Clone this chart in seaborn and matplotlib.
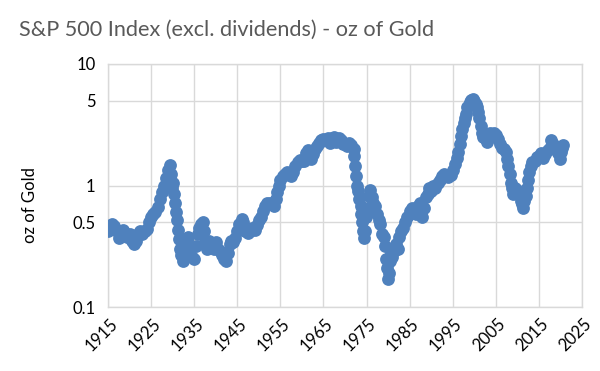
"""
S&P 500 Index (excl. dividends) priced in ounces of gold, 1915-2020
"""
import numpy as np
import pandas as pd
import matplotlib
matplotlib.use("Agg")
import matplotlib.pyplot as plt
import matplotlib.transforms as mtransforms
from matplotlib.ticker import FixedLocator, FixedFormatter, NullLocator
import seaborn as sns

# values (year, S&P 500 / gold price)
years = [
    1915.0, 1915.5, 1916.0, 1916.5, 1917.0, 1917.5, 1918.0, 1918.5, 1919.0, 1919.5,
    1920.0, 1920.5, 1921.0, 1921.5, 1922.0, 1922.5, 1923.0, 1923.5, 1924.0, 1924.5,
    1925.0, 1925.5, 1926.0, 1926.5, 1927.0, 1927.5, 1928.0, 1928.5, 1929.0, 1929.3,
    1929.6, 1929.8, 1930.0, 1930.3, 1930.6, 1930.8, 1931.0, 1931.2, 1931.5, 1931.8,
    1932.0, 1932.3, 1932.6, 1932.8, 1933.0, 1933.3, 1933.6, 1934.0, 1934.5, 1935.0,
    1935.4, 1935.8, 1936.2, 1936.6, 1937.0, 1937.3, 1937.6, 1938.0, 1938.5, 1939.0,
    1939.5, 1940.0, 1940.5, 1941.0, 1941.5, 1942.0, 1942.4, 1942.8, 1943.2, 1943.6,
    1944.0, 1944.5, 1945.0, 1945.5, 1946.0, 1946.4, 1946.8, 1947.2, 1947.6, 1948.0,
    1948.5, 1949.0, 1949.5, 1950.0, 1950.5, 1951.0, 1951.5, 1952.0, 1952.5, 1953.0,
    1953.5, 1954.0, 1954.3, 1954.7, 1955.0, 1955.5, 1956.0, 1956.5, 1957.0, 1957.5,
    1958.0, 1958.5, 1959.0, 1959.5, 1960.0, 1960.5, 1961.0, 1961.5, 1962.0, 1962.5,
    1963.0, 1963.5, 1964.0, 1964.5, 1965.0, 1965.5, 1966.0, 1966.5, 1967.0, 1967.5,
    1968.0, 1968.5, 1969.0, 1969.5, 1970.0, 1970.5, 1971.0, 1971.5, 1972.0, 1972.2,
    1972.4, 1972.6, 1972.8, 1973.0, 1973.3, 1973.6, 1973.8, 1974.0, 1974.2, 1974.4,
    1974.6, 1974.8, 1975.0, 1975.3, 1975.6, 1975.9, 1976.2, 1976.5, 1977.0, 1977.4,
    1977.8, 1978.2, 1978.6, 1979.0, 1979.3, 1979.6, 1979.8, 1980.0, 1980.2, 1980.4,
    1980.7, 1981.0, 1981.4, 1981.8, 1982.2, 1982.6, 1983.0, 1983.5, 1984.0, 1984.5,
    1985.0, 1985.5, 1986.0, 1986.5, 1987.0, 1987.5, 1987.9, 1988.3, 1988.8, 1989.2,
    1989.6, 1990.0, 1990.5, 1991.0, 1991.5, 1992.0, 1992.5, 1993.0, 1993.5, 1994.0,
    1994.5, 1995.0, 1995.5, 1996.0, 1996.3, 1996.6, 1996.9, 1997.2, 1997.5, 1997.8,
    1998.1, 1998.4, 1998.7, 1999.0, 1999.3, 1999.6, 2000.0, 2000.3, 2000.6, 2000.9,
    2001.2, 2001.5, 2001.8, 2002.1, 2002.4, 2002.7, 2003.0, 2003.3, 2003.6, 2004.0,
    2004.5, 2005.0, 2005.5, 2006.0, 2006.5, 2007.0, 2007.4, 2007.7, 2007.9, 2008.2,
    2008.5, 2008.8, 2009.1, 2009.5, 2010.0, 2010.5, 2010.8, 2011.0, 2011.3, 2011.6,
    2011.9, 2012.2, 2012.5, 2012.8, 2013.1, 2013.5, 2014.0, 2014.5, 2015.0, 2015.5,
    2016.0, 2016.5, 2017.0, 2017.5, 2017.9, 2018.2, 2018.6, 2019.0, 2019.4, 2019.8,
    2020.1, 2020.4, 2020.7,
]
oz_gold = [
    0.42, 0.46, 0.48, 0.46, 0.42, 0.37, 0.40, 0.43, 0.41, 0.38,
    0.40, 0.35, 0.33, 0.35, 0.40, 0.42, 0.40, 0.42, 0.44, 0.50,
    0.55, 0.58, 0.60, 0.66, 0.78, 0.88, 1.00, 1.15, 1.35, 1.47,
    1.25, 0.95, 1.05, 0.85, 0.72, 0.60, 0.52, 0.43, 0.36, 0.30,
    0.27, 0.24, 0.30, 0.35, 0.27, 0.33, 0.38, 0.30, 0.26, 0.25,
    0.32, 0.40, 0.45, 0.48, 0.50, 0.42, 0.34, 0.30, 0.35, 0.33,
    0.30, 0.34, 0.30, 0.29, 0.27, 0.25, 0.24, 0.28, 0.33, 0.35,
    0.34, 0.37, 0.42, 0.48, 0.53, 0.50, 0.42, 0.44, 0.41, 0.42,
    0.45, 0.43, 0.47, 0.52, 0.55, 0.62, 0.68, 0.72, 0.72, 0.70,
    0.68, 0.78, 0.88, 1.00, 1.12, 1.20, 1.25, 1.30, 1.25, 1.20,
    1.28, 1.45, 1.55, 1.62, 1.58, 1.60, 1.85, 1.95, 1.65, 1.80,
    2.00, 2.10, 2.25, 2.35, 2.40, 2.35, 2.45, 2.25, 2.45, 2.50,
    2.30, 2.45, 2.35, 2.20, 2.20, 2.10, 2.25, 2.15, 2.00, 1.75,
    1.45, 1.20, 1.00, 0.90, 0.78, 0.68, 0.58, 0.50, 0.42, 0.37,
    0.42, 0.55, 0.60, 0.65, 0.82, 0.92, 0.80, 0.72, 0.68, 0.58,
    0.52, 0.48, 0.40, 0.38, 0.32, 0.25, 0.21, 0.17, 0.19, 0.24,
    0.28, 0.26, 0.29, 0.33, 0.30, 0.38, 0.42, 0.45, 0.50, 0.55,
    0.62, 0.65, 0.62, 0.58, 0.68, 0.72, 0.55, 0.65, 0.80, 0.85,
    0.95, 0.90, 1.00, 0.95, 1.05, 1.12, 1.20, 1.25, 1.22, 1.18,
    1.22, 1.35, 1.50, 1.70, 1.90, 2.20, 2.55, 2.90, 3.30, 3.60,
    3.90, 4.40, 4.60, 4.90, 5.10, 5.20, 5.00, 4.70, 4.40, 4.00,
    3.60, 3.10, 2.70, 2.50, 2.60, 2.40, 2.30, 2.55, 2.70, 2.65,
    2.70, 2.60, 2.40, 2.20, 2.05, 2.00, 1.90, 1.65, 1.45, 1.25,
    1.05, 0.95, 0.85, 0.95, 0.92, 0.85, 0.75, 0.70, 0.65, 0.75,
    0.82, 0.95, 1.10, 1.30, 1.45, 1.55, 1.60, 1.72, 1.75, 1.85,
    1.70, 1.80, 1.95, 2.05, 2.35, 2.20, 2.10, 2.00, 1.85, 1.65,
    1.90, 2.05, 2.15,
]

x_ticks = list(range(1915, 2026, 10))
y_ticks = [0.1, 0.5, 1, 5, 10]
y_tick_labels = ["0.1", "0.5", "1", "5", "10"]

title = "S&P 500 Index (excl. dividends) - oz of Gold"
y_label = "oz of Gold"

BLUE = "#4F81BD"
GRID = "#D9D9D9"


def main():
    df = pd.DataFrame({"Year": years, "Ratio": oz_gold})

    sns.set_style("white")
    plt.rcParams["font.family"] = ["Lato", "DejaVu Sans"]

    fig = plt.figure(figsize=(6.0, 3.71), dpi=100)
    ax = fig.add_axes([108 / 600, 1 - 307 / 371, (582 - 108) / 600, (307 - 64) / 371])

    sns.scatterplot(data=df, x="Year", y="Ratio", ax=ax, color=BLUE,
                    s=85, linewidth=0, alpha=1, zorder=3, legend=False)

    ax.set_yscale("log")
    ax.set_xlim(1915, 2025)
    ax.set_ylim(0.1, 10)

    ax.xaxis.set_major_locator(FixedLocator(x_ticks))
    ax.xaxis.set_minor_locator(NullLocator())
    ax.yaxis.set_major_locator(FixedLocator(y_ticks))
    ax.yaxis.set_major_formatter(FixedFormatter(y_tick_labels))
    ax.yaxis.set_minor_locator(NullLocator())

    ax.grid(True, color=GRID, linewidth=1.0, zorder=0)
    ax.set_axisbelow(True)
    for sp in ax.spines.values():
        sp.set_color(GRID)
        sp.set_linewidth(1.0)

    ax.tick_params(axis="both", length=0, labelsize=12, colors="black")
    ax.tick_params(axis="y", pad=9)
    ax.tick_params(axis="x", pad=10)
    shift = mtransforms.ScaledTranslation(7 / 100, 0, fig.dpi_scale_trans)
    for lab in ax.get_xticklabels():
        lab.set_rotation(45)
        lab.set_ha("right")
        lab.set_va("center")
        lab.set_rotation_mode("anchor")
        lab.set_transform(lab.get_transform() + shift)

    ax.set_xlabel("")
    ax.set_ylabel("")
    fig.text(30 / 600, 1 - 205 / 371, y_label, rotation=90, ha="center",
             va="center", fontsize=12, color="black")
    fig.text(19 / 600, 1 - 30 / 371, title, ha="left", va="center",
             fontsize=15.6, color="#595959")

    fig.savefig("out.png", dpi=100, facecolor="white")


if __name__ == "__main__":
    main()
